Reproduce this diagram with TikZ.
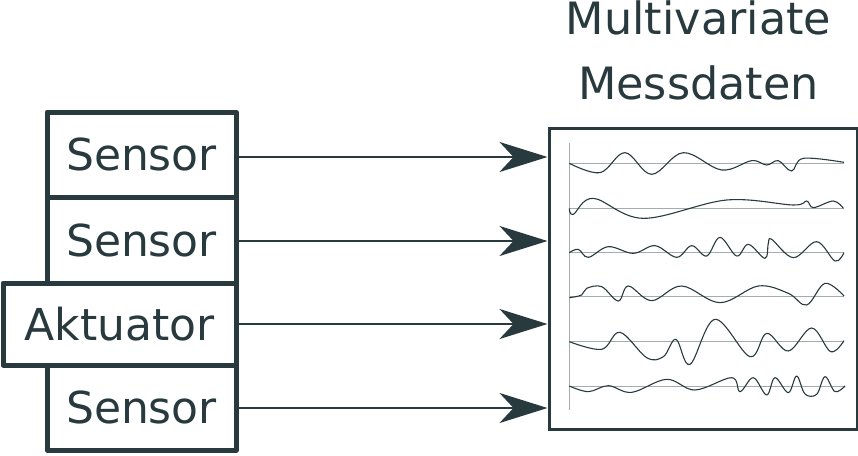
\documentclass[tikz,border=0pt]{standalone}
\usepackage{fontspec}
\setmainfont{DejaVu Sans}
\usetikzlibrary{arrows.meta}
\definecolor{ink}{RGB}{40,58,62}
\definecolor{baseln}{RGB}{165,172,172}
\tikzset{
  unitbox/.style={draw=ink, line width=5pt, text=ink, font=\fontsize{44}{52}\selectfont, inner sep=0pt, minimum width=189pt, line join=round},
  conn/.style={draw=ink, line width=2.2pt, -{Stealth[length=48pt,width=30pt,inset=14pt]}},
  plotbox/.style={draw=ink, line width=3pt, minimum width=308pt, minimum height=301pt, inner sep=0pt},
  titletext/.style={text=ink, font=\fontsize{44.5}{52}\selectfont, inner sep=0pt, anchor=base},
  signal/.style={draw=ink, line width=1.1pt, line join=round},
  zero/.style={draw=baseln, line width=0.9pt},
}
\begin{document}
\begin{tikzpicture}[x=1pt,y=-1pt]
\useasboundingbox (0,0) rectangle (858,455);
% plot frame
\node[plotbox] (plot) at (703,278.5) {};
% boxes
\node[unitbox, minimum height=85pt] (s1) at (141.5,154.5) {Sensor};
\node[unitbox, minimum height=86pt] (s2) at (141.5,240) {Sensor};
\node[unitbox, minimum height=85pt] (s4) at (141.5,407.5) {Sensor};
\node[unitbox, minimum height=82pt, minimum width=233pt] (a3) at (119.5,324) {Aktuator};
% title
\node[titletext] (t1) at (698.5,34) {Multivariate};
\node[titletext] (t2) at (698.5,99) {Messdaten};
% connectors
\coordinate (e1) at (s1.east |- 0,157);
\coordinate (e2) at (s2.east |- 0,241);
\coordinate (e3) at (a3.east |- 0,324);
\coordinate (e4) at (s4.east |- 0,408);
\draw[conn] (e1) -- (plot.west |- e1);
\draw[conn] (e2) -- (plot.west |- e2);
\draw[conn] (e3) -- (plot.west |- e3);
\draw[conn] (e4) -- (plot.west |- e4);
% signals
\begin{scope}[shift={(540,120)}, x=0.33333pt, y=-0.33333pt]
  \draw[zero] (88,70) -- (88,870);
  \foreach \b in {130,265,398,530,663,798} \draw[zero] (88,\b) -- (912,\b);
  \draw[signal] plot[smooth, tension=0.6] coordinates {(88,130) (180,158) (255,98) (335,163) (430,98) (545,150) (635,122) (680,135) (715,122) (755,153) (790,115) (912,127)};
  \draw[signal] plot[smooth, tension=0.6] coordinates {(88,265) (100,283) (160,235) (310,295) (560,240) (760,255) (800,243) (820,263) (880,243) (910,265)};
  \draw[signal] plot[smooth, tension=0.6] coordinates {(88,398) (115,388) (145,412) (205,380) (280,400) (345,377) (410,412) (455,377) (500,408) (540,352) (590,408) (625,373) (675,415) (685,370) (695,358) (760,413) (830,365) (885,423) (912,398)};
  \draw[signal] plot[smooth, tension=0.6] coordinates {(88,533) (125,525) (140,505) (185,500) (235,543) (265,498) (335,542) (425,498) (540,548) (655,498) (745,520) (800,555) (855,490) (912,528)};
  \draw[signal] plot[smooth, tension=0.6] coordinates {(88,665) (185,688) (240,637) (320,713) (370,710) (408,658) (450,733) (525,598) (630,710) (680,640) (745,693) (815,624) (872,695) (912,662)};
  \draw[signal] plot[smooth, tension=0.6] coordinates {(88,798) (145,815) (205,797) (275,817) (380,778) (465,810) (575,773) (600,815) (640,773) (680,825) (705,773) (745,818) (770,768) (795,822) (830,823) (855,770) (885,815) (915,798)};
\end{scope}
\end{tikzpicture}
\end{document}
